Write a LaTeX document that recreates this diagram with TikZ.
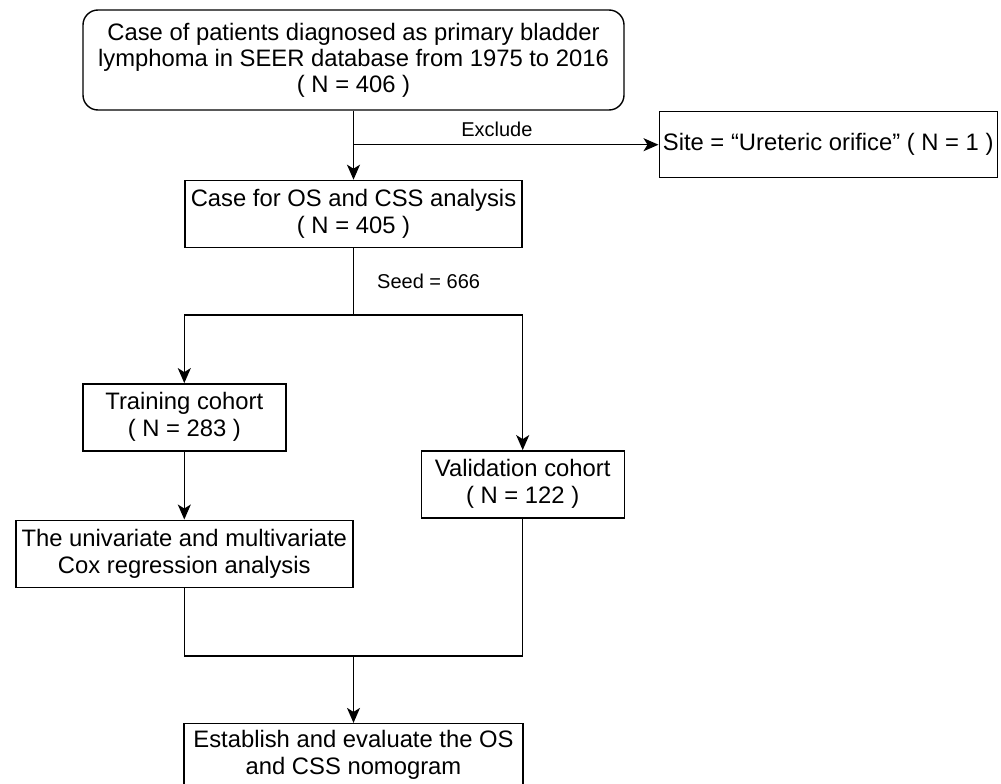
\documentclass[tikz,border=0pt]{standalone}
\usepackage{fontspec}
\setmainfont{Liberation Sans}
\usetikzlibrary{positioning, arrows.meta}
\tikzset{
    box/.style={draw, rectangle, inner sep=0pt, align=center, minimum height=67pt, font=\fontsize{23.8}{27}\selectfont}, % sets the properties for each box
    startbox/.style={box, rounded corners=15pt, minimum width=541pt, minimum height=100pt, font=\fontsize{23.8}{26}\selectfont}, % the first box
    lbl/.style={inner sep=0pt, font=\fontsize{20}{24}\selectfont}, % text on the edges
}

\begin{document}
\begin{tikzpicture}[x=1pt, y=1pt, ->, >={Stealth[length=15pt, width=13pt, inset=4pt]}, line width=1.4pt]
    \useasboundingbox (0,0) rectangle (1001,-784);
    \node[startbox] (top) at (353.5,-60) {Case of patients diagnosed as primary bladder\\lymphoma in SEER database from 1975 to 2016\\( N = 406 )};
    \node[box, below=69pt of top, minimum width=337pt] (os) {Case for OS and CSS analysis\\( N = 405 )};
    \coordinate[below=34pt of top] (split);
    \node[box, right=305pt of split, minimum width=338pt, minimum height=66pt] (excl) {Site = “Ureteric orifice” ( N = 1 )};
    \coordinate[below=67pt of os] (fork);
    \node[box, below=135pt of os.south west, minimum width=203pt] (train) {Training cohort\\( N = 283 )};
    \node[box, below=202pt of os.south east, minimum width=203pt] (valid) {Validation cohort\\( N = 122 )};
    \node[box, below=68pt of train, minimum width=337pt] (cox) {The univariate and multivariate\\Cox regression analysis};
    \coordinate[below=68pt of cox.south east] (join);
    \node[box, below=67pt of join, minimum width=339pt, minimum height=62pt] (nomo) {Establish and evaluate the OS\\and CSS nomogram};
    \path (top) edge (os)
          (split) edge node[lbl, above=7pt, pos=0.47]{Exclude} (excl)
          (train) edge (cox)
          (join) edge (nomo);
    \draw[-] (os) -- node[lbl, right=23pt]{Seed = 666} (fork);
    \draw (fork) -| (train.north);
    \draw (fork) -| (valid.north);
    \draw[-] (cox.south) |- (join) -| (valid.south);
\end{tikzpicture}
\end{document}
